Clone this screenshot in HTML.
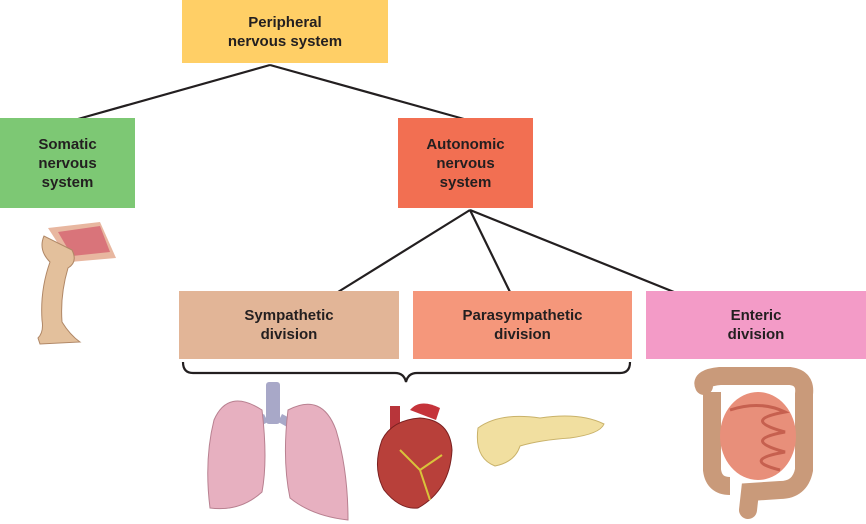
<!DOCTYPE html>
<html><head><meta charset="utf-8"><style>
html,body{margin:0;padding:0;background:#fff;}
body{width:866px;height:524px;position:relative;overflow:hidden;font-family:"Liberation Sans",Arial,sans-serif;}
.b{position:absolute;display:flex;align-items:center;justify-content:center;text-align:center;font-size:15px;line-height:19px;color:#231f20;font-weight:bold;}
svg{position:absolute;left:0;top:0;}
</style></head><body>
<svg width="866" height="524" viewBox="0 0 866 524">
<g stroke="#231f20" stroke-width="2.2" fill="none">
<line x1="270" y1="65" x2="78" y2="119"/>
<line x1="270" y1="65" x2="464" y2="119"/>
<line x1="470" y1="210" x2="338" y2="292"/>
<line x1="470" y1="210" x2="510" y2="292"/>
<line x1="470" y1="210" x2="674" y2="292"/>
<path d="M183 362 Q183 373 193 373 L395 373 Q404 373 406 382 Q408 373 417 373 L620 373 Q630 373 630 362"/>
</g>
<!-- leg -->
<g>
<path d="M48 228 L100 222 L116 258 L70 262 Z" fill="#e8b7a0"/>
<path d="M58 232 L100 226 L110 252 L72 256 Z" fill="#d9747a"/>
<path d="M44 236 Q38 250 50 262 Q40 290 42 320 Q44 332 38 338 L40 344 L80 342 Q70 335 62 322 Q60 295 68 268 Q78 262 72 250 Z" fill="#e3c09c" stroke="#b08766" stroke-width="1"/>
</g>
<!-- lungs -->
<g>
<rect x="266" y="382" width="14" height="42" rx="3" fill="#a8a8c8"/>
<path d="M266 418 Q252 425 246 432 M280 418 Q294 425 300 432" stroke="#a8a8c8" stroke-width="9" fill="none"/>
<path d="M262 410 Q228 388 214 420 Q204 460 210 508 Q240 512 262 492 Q268 460 262 410 Z" fill="#e7b0c0" stroke="#b88090" stroke-width="1"/>
<path d="M288 410 Q322 392 336 430 Q348 470 348 520 Q312 516 290 498 Q282 460 288 410 Z" fill="#e7b0c0" stroke="#b88090" stroke-width="1"/>
</g>
<!-- heart -->
<g>
<path d="M410 410 Q420 398 440 408 L436 420 Z" fill="#c5333a"/>
<rect x="390" y="406" width="10" height="28" fill="#b8353a"/>
<path d="M382 440 Q392 420 420 418 Q450 420 452 450 Q450 490 418 508 Q400 510 384 490 Q372 468 382 440 Z" fill="#b8403a" stroke="#7a2020" stroke-width="1"/>
<path d="M400 450 L420 470 L430 500 M420 470 L442 455" stroke="#d9c33a" stroke-width="2" fill="none"/>
</g>
<!-- pancreas -->
<path d="M478 428 Q500 412 540 418 Q580 412 604 424 Q600 434 570 438 Q540 440 520 446 Q515 462 495 466 Q474 458 478 428 Z" fill="#f1dfa0" stroke="#c9b26a" stroke-width="1"/>
<!-- intestines -->
<g>
<path d="M704 386 Q700 378 720 376 L790 376 Q806 378 804 394 L804 470 Q800 490 780 490 L750 492 L748 510" stroke="#c99a7a" stroke-width="18" fill="none" stroke-linecap="round"/>
<path d="M712 392 L712 470 Q714 486 730 486" stroke="#c99a7a" stroke-width="18" fill="none"/>
<ellipse cx="758" cy="436" rx="38" ry="44" fill="#e88f7a"/>
<path d="M730 410 Q760 400 785 412 Q740 420 785 432 Q740 440 785 452 Q740 460 780 470" stroke="#c6604f" stroke-width="3" fill="none"/>
</g>
</svg>
<div class="b" style="left:182px;top:0;width:206px;height:63px;background:#ffcf66;">Peripheral<br>nervous system</div>
<div class="b" style="left:0;top:118px;width:135px;height:90px;background:#7dc874;">Somatic<br>nervous<br>system</div>
<div class="b" style="left:398px;top:118px;width:135px;height:90px;background:#f26f52;">Autonomic<br>nervous<br>system</div>
<div class="b" style="left:179px;top:291px;width:220px;height:68px;background:#e2b597;">Sympathetic<br>division</div>
<div class="b" style="left:413px;top:291px;width:219px;height:68px;background:#f5977b;">Parasympathetic<br>division</div>
<div class="b" style="left:646px;top:291px;width:220px;height:68px;background:#f39bc7;">Enteric<br>division</div>
</body></html>
